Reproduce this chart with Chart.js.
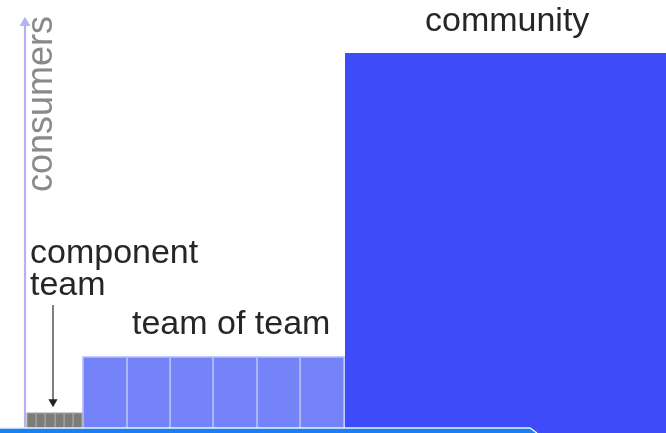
<!DOCTYPE html>
<html>
<head>
<meta charset="utf-8">
<script src="https://cdn.jsdelivr.net/npm/chart.js@4/dist/chart.umd.min.js"></script>
<style>
  html, body { margin: 0; padding: 0; background: #ffffff; }
  #wrap { width: 666px; height: 433px; }
</style>
</head>
<body>
<div id="wrap"><canvas id="c" width="666" height="433"></canvas></div>
<script>
// ---- data (x: horizontal extent units, y: consumers) ----
const groups = ['component team', 'team of team', 'community'];
const componentCellEdges = [27, 36, 45, 55, 64, 73, 82];
const teamCellEdges = [83, 127, 170, 213, 257, 300, 344];
const communityEdges = [345, 666];
const groupHeights = [15, 71, 375];
const stripEdges = [0, 530];
const axisRange = [0, 405];
const arrowRange = [123, 26];
const labelTexts = ['community', 'component', 'team', 'team of team', 'consumers'];

const FONT = '"Liberation Sans", Arial, Helvetica, sans-serif';

function rect(x0, x1, y0, y1) {
  return [{x: x0, y: y0}, {x: x0, y: y1}, {x: x1, y: y1}, {x: x1, y: y0}];
}
function cells(edges, h, fillColor, lineColor, lw, order) {
  const out = [];
  for (let i = 0; i < edges.length - 1; i++) {
    out.push({
      data: rect(edges[i], edges[i + 1], 0, h),
      showLine: true, fill: 'origin', backgroundColor: fillColor,
      borderColor: lineColor, borderWidth: lw, pointRadius: 0, tension: 0, order: order
    });
  }
  return out;
}

const datasets = [];
datasets.push(...cells(componentCellEdges, groupHeights[0], '#7c7d78', '#a4a6a0', 1.2, 5));
datasets.push(...cells(teamCellEdges, groupHeights[1], '#7484f8', '#b4bcfc', 1.6, 5));
datasets.push({
  data: rect(communityEdges[0], communityEdges[1], -5, groupHeights[2]),
  showLine: true, fill: {value: -5}, backgroundColor: '#3d4bf8',
  borderColor: '#3d4bf8', borderWidth: 0, pointRadius: 0, order: 5
});
// bottom strip
datasets.push({
  data: [{x: stripEdges[0], y: 0}, {x: stripEdges[1], y: 0}, {x: stripEdges[1] + 7, y: -5}],
  showLine: true, fill: {value: -5}, backgroundColor: '#1a7ff0',
  borderColor: '#e8f2ff', borderWidth: 1.5, pointRadius: 0, order: 1
});
// vertical consumers axis with arrowhead
datasets.push({
  data: [{x: 25, y: axisRange[0]}, {x: 25, y: axisRange[1]}],
  showLine: true, fill: false, borderColor: '#b3b3f4', borderWidth: 2.2,
  pointRadius: [0, 4], pointStyle: 'triangle', pointBackgroundColor: '#b3b3f4',
  pointBorderColor: '#b3b3f4', order: 2
});
// pointer arrow to component team
datasets.push({
  data: [{x: 53, y: arrowRange[0]}, {x: 53, y: arrowRange[1]}],
  showLine: true, fill: false, borderColor: '#3a3a3a', borderWidth: 1.3,
  pointRadius: [0, 4], pointStyle: 'triangle', pointRotation: 180,
  pointBackgroundColor: '#222', pointBorderColor: '#222', order: 2
});

const labelPlugin = {
  id: 'labels',
  afterDraw(chart) {
    const ctx = chart.ctx;
    const xs = chart.scales.x, ys = chart.scales.y;
    ctx.save();
    ctx.textBaseline = 'alphabetic';
    ctx.textAlign = 'left';
    ctx.font = '34px ' + FONT;
    ctx.fillStyle = '#262626';
    const place = [
      [labelTexts[0], 425, 397],
      [labelTexts[1], 30, 165],
      [labelTexts[2], 30, 133],
      [labelTexts[3], 132, 94]
    ];
    place.forEach(p => ctx.fillText(p[0], xs.getPixelForValue(p[1]), ys.getPixelForValue(p[2])));
    // rotated axis title
    ctx.translate(xs.getPixelForValue(52), ys.getPixelForValue(236));
    ctx.rotate(-Math.PI / 2);
    ctx.font = '36px ' + FONT;
    ctx.fillStyle = '#8a8a8a';
    ctx.fillText(labelTexts[4], 0, 0);
    ctx.restore();
  }
};

new Chart(document.getElementById('c'), {
  type: 'scatter',
  data: { datasets: datasets },
  options: {
    responsive: false,
    animation: false,
    devicePixelRatio: 1,
    layout: { padding: 0, autoPadding: false },
    plugins: { legend: { display: false }, tooltip: { enabled: false } },
    scales: {
      x: { type: 'linear', min: 0, max: 666, display: false },
      y: { type: 'linear', min: -5, max: 428, display: false }
    }
  },
  plugins: [labelPlugin]
});
</script>
</body>
</html>
